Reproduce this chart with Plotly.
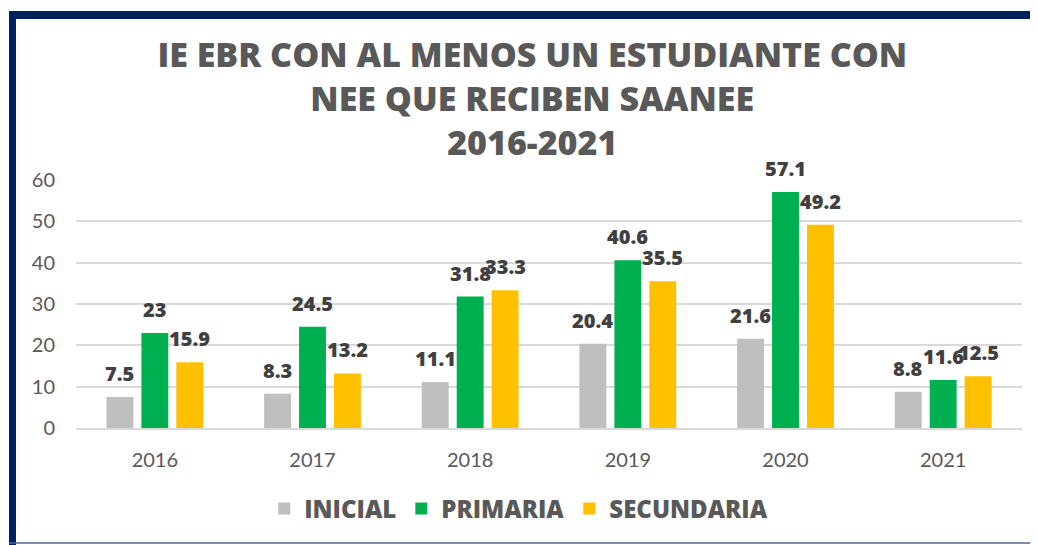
import plotly.graph_objects as go

years = ["2016", "2017", "2018", "2019", "2020", "2021"]
inicial = [7.5, 8.3, 11.1, 20.4, 21.6, 8.8]
primaria = [23, 24.5, 31.8, 40.6, 57.1, 11.6]
secundaria = [15.9, 13.2, 33.3, 35.5, 49.2, 12.5]
series_names = ["INICIAL", "PRIMARIA", "SECUNDARIA"]
colors = ["#BFBFBF", "#00B050", "#FFC000"]
series_values = [inicial, primaria, secundaria]

# page is offset by the browser's 8px body margin
OFF = 8
W, H = 1038 - OFF, 545 - OFF
# plot area in page pixels: x 76..1022, y 180..428
ML = 76 - OFF
MR = 1038 - 1022
MT = 180 - OFF
MB = 545 - 428
PW, PH = W - ML - MR, H - MT - MB

def px(x):
    return (x - OFF - ML) / PW

def py(y):
    return (H - MB - (y - OFF)) / PH

BOLD = "Open Sans"
REG = "Lato"
BARGAP = 0.335
fig = go.Figure()
for name, vals, col in zip(series_names, series_values, colors):
    fig.add_trace(go.Bar(
        x=years, y=vals, name=name, marker=dict(color=col, line=dict(width=0)),
        hoverinfo="x+y+name",
    ))

# data labels above each bar
slot = (1 - BARGAP) / len(series_values)
annotations = []
for k, vals in enumerate(series_values):
    off = (k - (len(series_values) - 1) / 2) * slot
    for i, v in enumerate(vals):
        annotations.append(dict(
            x=i + off, y=v, xref="x", yref="y", text=f"{v:g}", showarrow=False,
            yanchor="bottom", xanchor="center", yshift=8,
            font=dict(family=BOLD, size=20, color="#404040", weight=800),
        ))

fig.update_layout(
    width=W, height=H,
    margin=dict(l=ML, r=MR, t=MT, b=MB),
    paper_bgcolor="white", plot_bgcolor="white",
    barmode="group", bargap=BARGAP, bargroupgap=0.23,
    title=dict(
        text="IE EBR CON AL MENOS UN ESTUDIANTE CON<br>NEE QUE RECIBEN SAANEE<br>2016-2021",
        x=0.509, xanchor="center", y=1 - 59 / H, yanchor="middle",
        font=dict(family=BOLD, size=34, color="#595959", weight=800),
    ),
    xaxis=dict(
        showgrid=False, showline=True, linecolor="#D9D9D9", linewidth=2,
        ticks="", ticklabelstandoff=13,
        tickfont=dict(family=REG, size=20, color="#595959"),
    ),
    yaxis=dict(
        range=[0, 60], dtick=10, showgrid=True, gridcolor="#D9D9D9", gridwidth=1.5,
        zeroline=False, showline=False, ticks="", ticklabelstandoff=20,
        tickfont=dict(family=REG, size=20, color="#595959"),
    ),
    legend=dict(
        orientation="h", x=0.468, xanchor="center", y=py(509), yanchor="middle",
        font=dict(family=BOLD, size=24, color="#595959", weight=800),
        tracegroupgap=0,
    ),
    annotations=annotations,
    showlegend=True,
)

navy = "#002060"
shapes = [
    dict(type="rect", xref="paper", yref="paper", x0=px(9), x1=px(16), y0=py(545), y1=py(11),
         fillcolor=navy, line=dict(width=0), layer="above"),
    dict(type="rect", xref="paper", yref="paper", x0=px(9), x1=px(1038), y0=py(19), y1=py(11),
         fillcolor=navy, line=dict(width=0), layer="above"),
    dict(type="line", xref="paper", yref="paper", x0=px(9), x1=px(1038), y0=py(543), y1=py(543),
         line=dict(color="#4A6AA0", width=1.5), layer="above"),
]
fig.update_layout(shapes=shapes)

fig.write_html("out.html")
